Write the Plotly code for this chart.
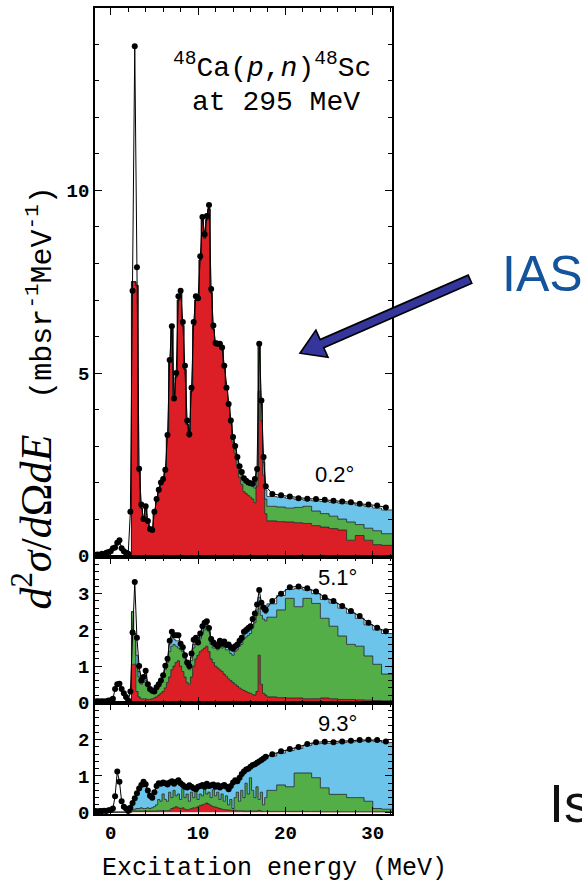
import numpy as np
import plotly.graph_objects as go

# ---------------- bins (MeV) ----------------
E_fine = np.arange(-1.75, 17.76, 0.25)      # 79 fine bin centres
E_coarse = np.arange(18.5, 31.6, 1.0)       # 14 coarse bin centres
E_all = np.concatenate([E_fine, E_coarse])

# ---------------- panel 1 : 0.2 deg ----------------
p1_data = [0.02, 0.03, 0.02, 0.05,  0.03, 0.08, 0.10, 0.12,  0.20, 0.22, 0.35, 0.42,  0.20, 0.12, 0.08, 0.05,
           1.2, 7.25, 13.95, 7.9,  2.38, 1.4, 1.0, 1.35,  0.95, 0.73, 0.70, 1.2,  1.55, 1.8, 2.0, 2.1,
           2.35, 3.3, 5.36, 6.28,  4.3, 5.0, 7.1, 7.25,  6.4, 5.2, 3.7, 3.32,  4.6, 6.4, 7.1, 7.05,
           8.2, 9.27, 8.8, 9.3,  9.6, 7.3, 6.3, 5.82,  5.8, 5.8, 5.7, 5.2,  4.6, 4.15, 3.7, 3.25,
           3.0, 2.7, 2.45, 2.29,  2.12, 2.05, 2.0, 1.98,  1.97, 2.1, 2.37, 5.8,  4.25, 2.7, 1.9,
           1.69, 1.65, 1.62, 1.57, 1.56, 1.55, 1.53, 1.50, 1.48, 1.46, 1.42, 1.40, 1.37, 1.32]
p1_red_top = [0]*16 + [
           0, 7.5, 7.5, 7.4,  2.3, 1.3, 0.95, 1.3,  0.9, 0.7, 0.68, 1.15,  1.5, 1.75, 1.95, 2.05,
           2.3, 3.25, 5.3, 6.2,  4.3, 4.9, 7.0, 7.2,  6.3, 5.1, 3.6, 3.25,  4.5, 6.3, 7.0, 7.0,
           8.1, 9.2, 8.7, 9.2,  9.5, 7.2, 6.2, 5.75,  5.75, 5.75, 5.65, 5.15,  4.55, 4.1, 3.6, 3.1,
           2.8, 2.45, 2.15, 1.95,  1.75, 1.7, 1.65, 1.6,  1.55, 1.45, 1.9, 4.5,  3.7, 2.2, 1.15,
           0.95, 0.93, 0.92, 0.90, 0.88, 0.82, 0.78, 0.74, 0.70, 0.42, 0.55, 0.42, 0.30, 0.28]
p1_green_top = [0]*16 + [
           0, 7.5, 7.5, 7.4,  2.3, 1.3, 0.95, 1.3,  0.9, 0.7, 0.68, 1.15,  1.5, 1.75, 1.95, 2.05,
           2.3, 3.25, 5.3, 6.2,  4.3, 4.9, 7.0, 7.2,  6.3, 5.1, 3.6, 3.25,  4.5, 6.3, 7.0, 7.0,
           8.1, 9.2, 8.7, 9.2,  9.5, 7.2, 6.2, 5.75,  5.75, 5.75, 5.65, 5.15,  4.55, 4.1, 3.65, 3.2,
           2.92, 2.6, 2.35, 2.2,  2.05, 2.0, 1.95, 1.92,  1.9, 1.85, 2.3, 5.8,  4.15, 2.55, 1.55,
           1.35, 1.33, 1.30, 1.32, 1.35, 1.22, 1.15, 1.08, 1.00, 0.92, 0.85, 0.75, 0.68, 0.60]
p1_fit_top = [0]*16 + [
           0, 7.5, 7.5, 7.4,  2.3, 1.3, 0.95, 1.3,  0.9, 0.7, 0.68, 1.15,  1.5, 1.75, 1.95, 2.05,
           2.3, 3.25, 5.3, 6.2,  4.3, 4.9, 7.0, 7.2,  6.3, 5.1, 3.6, 3.25,  4.5, 6.3, 7.0, 7.0,
           8.1, 9.2, 8.7, 9.2,  9.5, 7.2, 6.2, 5.75,  5.75, 5.75, 5.65, 5.15,  4.55, 4.1, 3.65, 3.2,
           2.95, 2.65, 2.4, 2.25,  2.1, 2.03, 1.98, 1.96,  1.94, 1.95, 2.35, 5.8,  4.2, 2.65, 1.8,
           1.62, 1.60, 1.57, 1.54, 1.52, 1.50, 1.48, 1.46, 1.44, 1.42, 1.38, 1.35, 1.30, 1.25]

# ---------------- panel 2 : 5.1 deg ----------------
p2_data = [0.02, 0.03, 0.02, 0.03,  0.02, 0.03, 0.05, 0.05,  0.10, 0.37, 0.50, 0.51,  0.37, 0.25, 0.15, 0.05,
           0.3, 1.93, 3.32, 1.78,  1.0, 0.6, 0.7, 0.87,  0.5, 0.37, 0.32, 0.3,  0.42, 0.5, 0.6, 0.75,
           1.01, 1.2, 1.7, 1.95,  1.85, 1.85, 1.85, 1.62,  1.52, 1.3, 1.1, 1.0,  1.35, 1.73, 1.78, 1.65,
           1.9, 2.1, 2.2, 2.24,  2.05, 1.75, 1.65, 1.6,  1.55, 1.7, 1.62, 1.68,  1.58, 1.6, 1.52, 1.48,
           1.55, 1.6, 1.7, 1.78,  1.95, 2.0, 2.05, 2.1,  2.3, 2.45, 2.7, 3.1,  2.75, 2.62, 2.55,
           2.80, 3.00, 3.18, 3.20, 3.15, 3.06, 2.90, 2.80, 2.66, 2.52, 2.38, 2.20, 2.06, 1.96]
p2_red_top = [0]*16 + [
           0, 1.05, 1.05, 0.3,  0.15, 0.1, 0.1, 0.1,  0.08, 0.08, 0.1, 0.12,  0.15, 0.2, 0.25, 0.3,
           0.4, 0.55, 0.7, 0.9,  1.0, 1.1, 1.15, 1.0,  0.85, 0.7, 0.55, 0.5,  0.7, 1.0, 1.2, 1.3,
           1.4, 1.45, 1.5, 1.55,  1.4, 1.2, 1.1, 1.0,  0.95, 0.9, 0.85, 0.78,  0.72, 0.65, 0.6, 0.55,
           0.5, 0.45, 0.4, 0.36,  0.33, 0.3, 0.27, 0.25,  0.22, 0.2, 0.3, 1.3,  0.5, 0.25, 0.2,
           0.15, 0.13, 0.12, 0.12, 0.10, 0.10, 0.12, 0.10, 0.08, 0.08, 0.07, 0.06, 0.05, 0.04]
p2_green_top = [0]*16 + [
           0, 2.5, 1.9, 1.0,  0.7, 0.5, 0.55, 0.6,  0.45, 0.3, 0.25, 0.25,  0.35, 0.45, 0.55, 0.7,
           0.9, 1.1, 1.4, 1.55,  1.6, 1.55, 1.5, 1.45,  1.4, 1.2, 1.0, 0.9,  1.15, 1.5, 1.6, 1.6,
           1.75, 1.9, 2.0, 2.1,  1.95, 1.6, 1.5, 1.5,  1.45, 1.6, 1.5, 1.55,  1.45, 1.45, 1.35, 1.3,
           1.4, 1.45, 1.55, 1.6,  1.75, 1.8, 1.85, 1.9,  2.05, 2.2, 2.4, 2.6,  2.4, 2.3, 2.25,
           2.35, 2.55, 2.87, 2.64, 2.87, 2.73, 2.32, 2.10, 1.83, 1.60, 1.55, 1.28, 1.05, 0.78]
p2_fit_top = [0]*16 + [
           0, 2.5, 1.9, 1.3,  0.85, 0.55, 0.65, 0.8,  0.48, 0.35, 0.3, 0.28,  0.4, 0.48, 0.58, 0.72,
           0.95, 1.15, 1.6, 1.8,  1.75, 1.7, 1.7, 1.55,  1.45, 1.25, 1.05, 0.95,  1.25, 1.6, 1.7, 1.6,
           1.8, 2.0, 2.1, 2.15,  2.0, 1.7, 1.6, 1.55,  1.5, 1.65, 1.58, 1.62,  1.52, 1.55, 1.45, 1.42,
           1.5, 1.55, 1.62, 1.7,  1.85, 1.9, 1.95, 2.0,  2.15, 2.3, 2.55, 2.9,  2.6, 2.5, 2.45,
           2.72, 2.95, 3.12, 3.14, 3.10, 3.00, 2.84, 2.74, 2.60, 2.46, 2.32, 2.14, 2.00, 1.90]

# ---------------- panel 3 : 9.3 deg ----------------
p3_data = [0.03, 0.02, 0.03, 0.03,  0.04, 0.03, 0.05, 0.06,  0.10, 0.44, 1.12, 0.84,  0.30, 0.15, 0.10, 0.03,
           0.12, 0.25, 0.38, 0.52,  0.65, 0.75, 0.84, 0.77,  0.6, 0.45, 0.4, 0.55,  0.72, 0.8, 0.78, 0.82,
           0.8, 0.76, 0.82, 0.85,  0.78, 0.84, 0.88, 0.8,  0.75, 0.7, 0.68, 0.74,  0.7, 0.66, 0.63, 0.7,
           0.72, 0.75, 0.7, 0.78,  0.72, 0.74, 0.76, 0.7,  0.74, 0.68, 0.72, 0.75,  0.7, 0.63, 0.72, 0.82,
           0.88, 0.85, 0.95, 1.05,  1.12, 1.18, 1.2, 1.25,  1.3, 1.32, 1.36, 1.4,  1.44, 1.48, 1.53,
           1.60, 1.68, 1.74, 1.80, 1.88, 1.93, 1.94, 1.93, 1.95, 1.97, 1.99, 2.00, 1.99, 1.95]
p3_red_top = [0]*16 + [
           0, 0.02, 0.03, 0.03,  0.03, 0.03, 0.03, 0.03,  0.03, 0.03, 0.03, 0.03,  0.03, 0.04, 0.04, 0.04,
           0.04, 0.04, 0.05, 0.1,  0.12, 0.15, 0.12, 0.1,  0.12, 0.08, 0.06, 0.07,  0.1, 0.12, 0.12, 0.15,
           0.18, 0.2, 0.22, 0.25,  0.22, 0.18, 0.15, 0.14,  0.12, 0.1, 0.08, 0.07,  0.06, 0.06, 0.05, 0.05,
           0.05, 0.04, 0.04, 0.04,  0.03, 0.03, 0.03, 0.03,  0.03, 0.03, 0.03, 0.05,  0.03, 0.02, 0.02,
           0.02, 0.02, 0.02, 0.02, 0.02, 0.02, 0.01, 0.01, 0.01, 0.01, 0.01, 0.01, 0.01, 0.01]
p3_green_top = [0]*16 + [
           0, 0.05, 0.08, 0.1,  0.1, 0.12, 0.1, 0.1,  0.12, 0.1, 0.12, 0.15,  0.2, 0.35, 0.3, 0.5,
           0.35, 0.3, 0.55, 0.4,  0.6, 0.45, 0.5, 0.35,  0.65, 0.4, 0.5, 0.3,  0.55, 0.4, 0.6, 0.35,
           0.5, 0.45, 0.65, 0.5,  0.55, 0.4, 0.62, 0.45,  0.55, 0.35, 0.5, 0.3,  0.45, 0.2, 0.35, 0.1,
           0.4, 0.55, 0.3, 0.6,  0.4, 0.8, 0.5, 0.95,  0.6, 0.4, 0.7, 0.35,  0.55, 0.2, 0.4,
           0.60, 0.75, 0.70, 1.08, 1.08, 0.95, 0.67, 0.49, 0.49, 0.40, 0.40, 0.30, 0.10, 0.08]
p3_fit_top = [0]*16 + [
           0, 0.22, 0.35, 0.48,  0.6, 0.7, 0.78, 0.72,  0.55, 0.42, 0.38, 0.5,  0.68, 0.75, 0.74, 0.78,
           0.76, 0.72, 0.78, 0.8,  0.74, 0.8, 0.84, 0.76,  0.72, 0.66, 0.64, 0.7,  0.66, 0.62, 0.6, 0.66,
           0.68, 0.7, 0.67, 0.74,  0.68, 0.7, 0.72, 0.66,  0.7, 0.64, 0.68, 0.7,  0.66, 0.6, 0.68, 0.78,
           0.84, 0.8, 0.9, 1.0,  1.07, 1.13, 1.15, 1.2,  1.25, 1.27, 1.31, 1.35,  1.39, 1.43, 1.48,
           1.55, 1.63, 1.70, 1.76, 1.84, 1.89, 1.90, 1.90, 1.92, 1.94, 1.96, 1.97, 1.96, 1.92]

angle_labels = ["0.2°", "5.1°", "9.3°"]
x_ticks = [0, 10, 20, 30]

RED, GREEN, BLUE = "#dc1f26", "#54ae48", "#6cc4ea"
EDGE = "#1e1e1e"

# step edges built from bin centres
left_edges = np.concatenate([E_fine - 0.125, [17.875], E_coarse[1:] - 0.5])
x_step = np.append(left_edges, 32.4)


def step(v):
    v = np.asarray(v, dtype=float)
    return np.append(v, v[-1])


panels = [
    (p1_data, p1_red_top, p1_green_top, p1_fit_top),
    (p2_data, p2_red_top, p2_green_top, p2_fit_top),
    (p3_data, p3_red_top, p3_green_top, p3_fit_top),
]

fig = go.Figure()
for k, (dat, rt, gt, ft) in enumerate(panels):
    xa = "x" if k == 0 else f"x{k+1}"
    ya = "y" if k == 0 else f"y{k+1}"
    for lvl, col, fill in ((rt, RED, "tozeroy"), (gt, GREEN, "tonexty"), (ft, BLUE, "tonexty")):
        fig.add_trace(go.Scatter(x=x_step, y=step(lvl), mode="lines", fill=fill, fillcolor=col,
                                 line=dict(color=EDGE, width=0.8, shape="hv"),
                                 xaxis=xa, yaxis=ya, hoverinfo="skip"))
    fig.add_trace(go.Scatter(x=E_all, y=dat, mode="lines+markers",
                             line=dict(color="black", width=1),
                             marker=dict(color="black", size=6),
                             xaxis=xa, yaxis=ya, hoverinfo="skip"))

W, H = 582, 895
xdom = [95 / W, 392 / W]
ydoms = [[(H - 565) / H, (H - 8) / H], [(H - 713) / H, (H - 565) / H], [(H - 825) / H, (H - 713) / H]]
yranges = [[-0.05, 15], [-0.03, 4.0], [-0.05, 3.0]]
ytickvals = [[0, 5, 10], [0, 1, 2, 3], [0, 1, 2]]
yminor = [1, 0.2, 0.2]

tickfont = dict(family="Liberation Mono", size=19, color="black", weight="bold")
axis_common = dict(showline=True, linecolor="black", linewidth=1.6, mirror="allticks",
                   ticks="inside", ticklen=7, tickwidth=1.3, tickcolor="black",
                   showgrid=False, zeroline=False, tickfont=tickfont)

layout = {}
for k in range(3):
    xk = "xaxis" if k == 0 else f"xaxis{k+1}"
    yk = "yaxis" if k == 0 else f"yaxis{k+1}"
    ya = "y" if k == 0 else f"y{k+1}"
    xa = "x" if k == 0 else f"x{k+1}"
    layout[xk] = dict(domain=xdom, anchor=ya, range=[-1.8, 32.2], tickmode="array", tickvals=x_ticks,
                      showticklabels=(k == 2),
                      minor=dict(tickmode="linear", tick0=0, dtick=2, ticklen=4, ticks="inside",
                                 tickcolor="black", tickwidth=1),
                      **axis_common)
    layout[yk] = dict(domain=ydoms[k], anchor=xa, range=yranges[k], tickmode="array",
                      tickvals=ytickvals[k],
                      minor=dict(tickmode="linear", tick0=0, dtick=yminor[k], ticklen=4, ticks="inside",
                                 tickcolor="black", tickwidth=1),
                      **axis_common)

fig.update_layout(width=W, height=H, margin=dict(l=0, r=0, t=0, b=0), showlegend=False,
                  plot_bgcolor="white", paper_bgcolor="white", **layout)


def px(x, y):
    return x / W, 1 - y / H


ann = []
mono = "Liberation Mono"
x0, y0 = px(272, 67)
ann.append(dict(x=x0, y=y0, text="<sup>48</sup>Ca(<i>p</i>,<i>n</i>)<sup>48</sup>Sc",
                font=dict(family=mono, size=28, color="black")))
x0, y0 = px(276, 104)
ann.append(dict(x=x0, y=y0, text="at 295 MeV", font=dict(family=mono, size=28, color="black")))
for lab, (lx, ly) in zip(angle_labels, [(334, 481), (337, 585), (337, 733)]):
    x0, y0 = px(lx, ly)
    ann.append(dict(x=x0, y=y0, text=lab, font=dict(family="Liberation Sans", size=22, color="black")))
x0, y0 = px(274, 880)
ann.append(dict(x=x0, y=y0, text="Excitation energy (MeV)", font=dict(family=mono, size=25, color="black")))
x0, y0 = px(33, 404)
ser = "font-family:'Liberation Serif';font-size:44px"
ann.append(dict(x=x0, y=y0, textangle=-90,
                text=(f"<span style=\"{ser}\"><i>d</i><sup>2</sup><i>σ</i>/<i>d</i>Ω<i>dE</i></span>"
                      "  (mbsr<sup>-1</sup>MeV<sup>-1</sup>)"),
                font=dict(family=mono, size=30, color="black")))
x0, y0 = px(500, 278)
ann.append(dict(x=x0, y=y0, xanchor="left", text="IAS",
                font=dict(family="Liberation Sans", size=50, color="#14549a")))
x0, y0 = px(547, 814)
ann.append(dict(x=x0, y=y0, xanchor="left", text="Is",
                font=dict(family="Liberation Sans", size=54, color="#111111")))
for a in ann:
    a.setdefault("xanchor", "center")
    a.update(xref="paper", yref="paper", yanchor="middle", showarrow=False)
fig.update_layout(annotations=ann)

# arrow pointing at the IAS peak (drawn as an outlined polygon)
tail = np.array([470.0, 283.0])
tip = np.array([300.0, 358.0])
u = (tip - tail) / np.linalg.norm(tip - tail)
n = np.array([-u[1], u[0]])
base = tip - 24 * u
pts = [tail - 4.5 * n, base - 4.5 * n, base - 15 * n, tip, base + 15 * n, base + 4.5 * n, tail + 4.5 * n]
path = "M " + " L ".join(f"{px(p[0], p[1])[0]:.5f},{px(p[0], p[1])[1]:.5f}" for p in pts) + " Z"
fig.add_shape(type="path", path=path, xref="paper", yref="paper", fillcolor="#35369b",
              line=dict(color="black", width=1.6), layer="above")

fig.write_html("out.html")
